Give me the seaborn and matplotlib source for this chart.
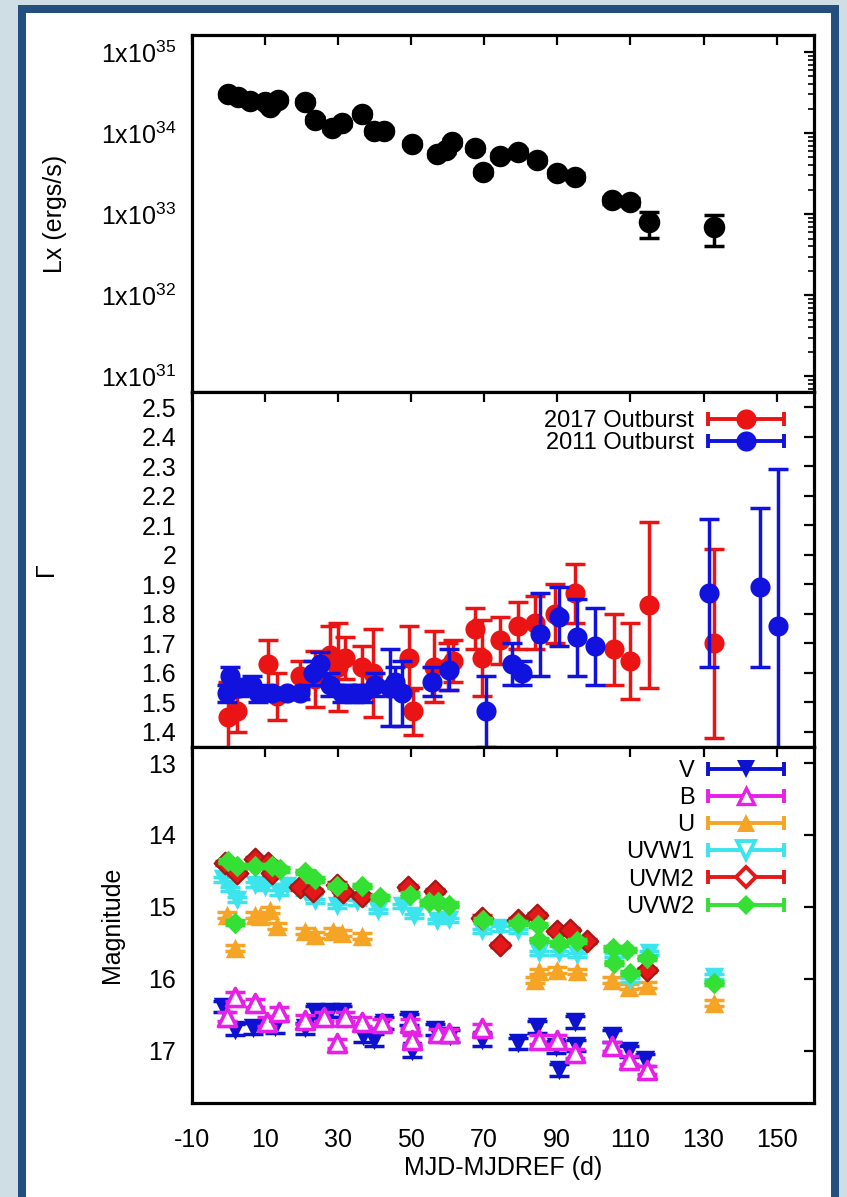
import math
import matplotlib
matplotlib.use("Agg")
import matplotlib.pyplot as plt
import seaborn as sns
from matplotlib.lines import Line2D
from matplotlib.legend_handler import HandlerBase
from matplotlib.patches import Rectangle
from matplotlib.ticker import FixedLocator, LogLocator, FuncFormatter, NullFormatter

# ---------------- X-ray luminosity (2017 outburst) ----------------
lx_day = [0.0, 2.7, 6.0, 10.1, 11.5, 13.7, 21.1, 23.8, 28.4, 31.1, 36.6, 40.0, 42.5,
          50.2, 57.1, 59.5, 61.2, 67.5, 69.7, 74.4, 79.4, 84.5, 89.9, 94.9, 105.0,
          110.0, 115.0, 132.8]
lx_val = [3.02e34, 2.75e34, 2.51e34, 2.40e34, 2.09e34, 2.57e34, 2.45e34, 1.45e34,
          1.15e34, 1.32e34, 1.74e34, 1.05e34, 1.07e34, 7.4e33, 5.5e33, 6.2e33, 7.8e33,
          6.5e33, 3.3e33, 5.2e33, 5.9e33, 4.7e33, 3.2e33, 2.9e33, 1.48e33, 1.41e33,
          7.9e32, 6.9e32]
lx_err = [2.0e33, 1.9e33, 1.8e33, 1.7e33, 1.5e33, 1.8e33, 1.7e33, 1.1e33, 0.9e33,
          1.0e33, 1.3e33, 0.8e33, 0.8e33, 5.5e32, 4.5e32, 5.0e32, 6.0e32, 5.0e32,
          3.0e32, 4.0e32, 4.5e32, 4.0e32, 3.0e32, 2.8e32, 1.6e32, 1.6e32, 2.8e32, 2.9e32]

# ---------------- photon index ----------------
g17_day = [0.0, 2.5, 10.8, 13.5, 19.7, 23.8, 28.0, 30.0, 32.0, 36.5, 39.5, 49.6, 50.6,
           56.4, 60.0, 61.5, 67.6, 69.4, 74.4, 79.4, 84.0, 89.5, 94.9, 105.4, 110.0,
           115.0, 132.8]
g17_val = [1.45, 1.47, 1.63, 1.52, 1.59, 1.58, 1.66, 1.62, 1.65, 1.62, 1.60, 1.65, 1.47,
           1.62, 1.62, 1.64, 1.75, 1.65, 1.71, 1.76, 1.77, 1.80, 1.87, 1.68, 1.64, 1.83, 1.70]
g17_err = [0.12, 0.07, 0.08, 0.08, 0.05, 0.095, 0.10, 0.15, 0.07, 0.07, 0.15, 0.11, 0.08,
           0.12, 0.08, 0.07, 0.07, 0.13, 0.08, 0.08, 0.09, 0.10, 0.10, 0.12, 0.13, 0.28, 0.32]

g11_day = [-0.4, 0.5, 3.0, 6.5, 8.3, 12.0, 16.0, 19.7, 23.3, 25.2, 27.9, 31.1, 34.3, 37.0,
           40.2, 44.3, 45.7, 47.5, 55.7, 60.3, 70.6, 77.6, 80.3, 85.3, 90.4, 95.4, 100.4,
           131.4, 145.4, 150.4]
g11_val = [1.53, 1.59, 1.55, 1.56, 1.53, 1.53, 1.53, 1.53, 1.60, 1.63, 1.56, 1.53, 1.53,
           1.53, 1.56, 1.55, 1.57, 1.53, 1.57, 1.61, 1.47, 1.63, 1.60, 1.73, 1.79, 1.72,
           1.69, 1.87, 1.89, 1.76]
g11_err = [0.03, 0.03, 0.03, 0.03, 0.03, 0.02, 0.02, 0.02, 0.04, 0.04, 0.04, 0.03, 0.03,
           0.03, 0.04, 0.13, 0.05, 0.11, 0.05, 0.07, 0.12, 0.07, 0.04, 0.14, 0.10, 0.13,
           0.13, 0.25, 0.27, 0.53]

# ---------------- UVOT magnitudes ----------------
v_day = [-1.3, 1.9, 6.9, 12.8, 21.1, 23.8, 27.9, 31.1, 37.0, 39.8, 42.5, 49.5, 50.2,
         56.6, 60.7, 69.4, 79.4, 84.4, 89.6, 90.4, 94.9, 95.2, 104.9, 109.5, 114.1]
v_mag = [16.39, 16.71, 16.69, 16.67, 16.69, 16.46, 16.46, 16.46, 16.80, 16.85, 16.62,
         16.57, 17.01, 16.71, 16.80, 16.85, 16.90, 16.67, 16.95, 17.27, 16.60, 16.93,
         16.80, 17.01, 17.13]
v_err = [0.08] * 25

b_day = [-0.4, 1.9, 7.4, 10.6, 13.8, 21.1, 26.1, 29.7, 32.0, 36.6, 42.0, 49.8, 50.3,
         57.5, 60.3, 69.4, 84.9, 89.9, 94.9, 104.9, 109.5, 114.5]
b_mag = [16.53, 16.25, 16.34, 16.60, 16.46, 16.57, 16.53, 16.90, 16.53, 16.60, 16.62,
         16.62, 16.85, 16.76, 16.76, 16.69, 16.85, 16.85, 17.04, 16.94, 17.13, 17.27]
b_err = [0.06] * 22

u_day = [-0.4, 1.9, 7.4, 8.7, 11.5, 13.3, 21.1, 23.8, 28.8, 31.1, 36.6, 84.0, 84.9,
         89.9, 95.4, 104.9, 109.5, 114.5, 132.8]
u_mag = [15.11, 15.57, 15.11, 15.13, 15.04, 15.27, 15.34, 15.39, 15.34, 15.36, 15.41,
         16.02, 15.90, 15.88, 15.90, 16.02, 16.11, 16.09, 16.34]
u_err = [0.04] * 19

w1_day = [-1.3, 0.5, 2.4, 7.4, 10.1, 13.8, 16.0, 21.1, 23.8, 29.7, 35.2, 41.1, 47.5,
          50.7, 57.1, 60.3, 69.4, 74.4, 79.4, 84.9, 90.4, 95.4, 105.4, 110.0, 115.0, 132.8]
w1_mag = [14.62, 14.75, 14.90, 14.69, 14.73, 14.80, 14.71, 14.80, 14.92, 14.99, 14.94,
          15.06, 14.99, 15.13, 15.20, 15.18, 15.34, 15.30, 15.34, 15.64, 15.64, 15.67,
          15.67, 16.02, 15.64, 15.97]
w1_err = [0.03] * 26

m2_day = [-0.8, 2.4, 7.4, 11.0, 11.9, 19.7, 23.3, 29.7, 31.5, 36.6, 49.3, 56.6, 69.4,
          74.4, 79.4, 84.4, 89.9, 93.6, 98.1, 114.5]
m2_mag = [14.39, 14.53, 14.34, 14.39, 14.53, 14.73, 14.78, 14.69, 14.80, 14.85, 14.73,
          14.78, 15.15, 15.53, 15.18, 15.11, 15.34, 15.32, 15.48, 15.88]
m2_err = [0.03] * 20

w2_day = [0.1, 1.9, 2.4, 7.4, 11.9, 14.2, 21.1, 23.8, 29.7, 36.6, 41.6, 49.8, 54.8,
          57.5, 60.3, 69.6, 79.4, 84.7, 85.1, 90.4, 95.4, 105.2, 105.6, 109.0, 110.0,
          114.5, 132.8]
w2_mag = [14.36, 15.22, 14.43, 14.43, 14.43, 14.48, 14.52, 14.62, 14.71, 14.71, 14.87,
          14.83, 14.94, 14.94, 14.97, 15.19, 15.23, 15.25, 15.46, 15.51, 15.48, 15.58,
          15.78, 15.60, 15.92, 15.71, 16.06]
w2_err = [0.03] * 27

day_ticks = [-10, 10, 30, 50, 70, 90, 110, 130, 150]

# ---------------- style ----------------
sns.set_theme(style="white")
plt.rcParams["font.family"] = ["Liberation Sans", "DejaVu Sans"]
plt.rcParams["mathtext.fontset"] = "custom"
plt.rcParams["mathtext.rm"] = "Liberation Sans"
plt.rcParams["axes.unicode_minus"] = False
plt.rcParams["axes.edgecolor"] = "black"
plt.rcParams["text.color"] = "black"
plt.rcParams["axes.labelcolor"] = "black"

W, H = 847, 1197
LIGHT = "#cfdde4"
DARK = "#234f7f"

fig = plt.figure(figsize=(W / 100, H / 100), dpi=100, facecolor=LIGHT)
# window frame
fig.patches.append(Rectangle((18 / W, 0), (839 - 18) / W, (H - 5) / H,
                             transform=fig.transFigure, facecolor=DARK, edgecolor="none", zorder=-3))
fig.patches.append(Rectangle((26 / W, 0), (831 - 26) / W, (H - 13) / H,
                             transform=fig.transFigure, facecolor="white", edgecolor="none", zorder=-2))

LEFT, RIGHT = 191.5, 814.0
edges = [35.0, 392.0, 746.5, 1103.0]
axes = []
for i in range(3):
    top, bot = edges[i], edges[i + 1]
    ax = fig.add_axes([LEFT / W, (H - bot) / H, (RIGHT - LEFT) / W, (bot - top) / H])
    axes.append(ax)
ax1, ax2, ax3 = axes

FS = 18


def style_axis(ax, show_xlabels):
    for s in ax.spines.values():
        s.set_linewidth(2.3)
        s.set_color("black")
    ax.set_facecolor("white")
    ax.set_xlim(-10, 160.2)
    ax.xaxis.set_major_locator(FixedLocator(day_ticks))
    ax.tick_params(which="both", direction="in", top=True, right=True, colors="black")
    ax.tick_params(which="major", length=7, width=1.6)
    ax.tick_params(which="minor", length=4, width=1.2)
    ax.tick_params(axis="y", labelsize=FS, pad=11)
    ax.tick_params(axis="x", labelsize=FS, pad=18, labelbottom=show_xlabels)


def draw_series(ax, x, y, err, color, marker, ms, face, edge, mew, z, ecolor=None):
    ax.errorbar(x, y, yerr=err, fmt="none", ecolor=ecolor or color, elinewidth=2.5,
                capsize=7, capthick=2.5, zorder=z)
    sns.scatterplot(x=x, y=y, ax=ax, marker=marker, s=ms ** 2, color=color,
                    facecolor=face, edgecolor=edge, linewidth=mew, zorder=z + 0.5,
                    legend=False)


class Key:
    def __init__(self, line, marker, ms, face, edge, mew):
        self.line, self.marker, self.ms = line, marker, ms
        self.face, self.edge, self.mew = face, edge, mew


class KeyHandler(HandlerBase):
    def create_artists(self, legend, key, xdescent, ydescent, width, height, fontsize, trans):
        y = height / 2 - ydescent
        x0, x1 = -xdescent, width - xdescent
        bar = Line2D([x0, x1], [y, y], color=key.line, lw=2.8, solid_capstyle="butt")
        caps = Line2D([x0, x1], [y, y], ls="none", marker="|", ms=10, mew=2.8, color=key.line)
        pt = Line2D([(x0 + x1) / 2], [y], ls="none", marker=key.marker, ms=key.ms,
                    mfc=key.face, mec=key.edge, mew=key.mew)
        for a in (bar, caps, pt):
            a.set_transform(trans)
        return [bar, caps, pt]


def add_key(ax, keys, labels, anchor, spacing):
    ax.legend(handles=keys, labels=labels, handler_map={Key: KeyHandler()},
              loc="upper right", bbox_to_anchor=anchor, frameon=False,
              markerfirst=False, handlelength=3.2, handletextpad=0.6,
              labelspacing=spacing, borderpad=0, borderaxespad=0, fontsize=17)


# ---------------- panel 1: luminosity ----------------
draw_series(ax1, lx_day, lx_val, lx_err, "black", "o", 15.5, "black", "black", 0, 3)
ax1.set_yscale("log")
ax1.set_ylim(6.4e30, 1.62e35)
style_axis(ax1, False)
ax1.yaxis.set_major_locator(FixedLocator([1e31, 1e32, 1e33, 1e34, 1e35]))
ax1.yaxis.set_major_formatter(FuncFormatter(
    lambda v, p: r"$\mathregular{1x10^{%d}}$" % round(math.log10(v))))
ax1.yaxis.set_minor_locator(LogLocator(base=10, subs=range(2, 10), numticks=20))
ax1.yaxis.set_minor_formatter(NullFormatter())
ax1.set_ylabel("Lx (ergs/s)", fontsize=FS)
ax1.yaxis.set_label_coords(-0.20, 0.5)

# ---------------- panel 2: photon index ----------------
RED, BLUE = "#ea1414", "#1212de"
draw_series(ax2, g17_day, g17_val, g17_err, RED, "o", 14.5, RED, RED, 0, 3)
draw_series(ax2, g11_day, g11_val, g11_err, BLUE, "o", 14.5, BLUE, BLUE, 0, 5)
ax2.set_ylim(1.35, 2.552)
style_axis(ax2, False)
ax2.yaxis.set_major_locator(FixedLocator([1.4 + 0.1 * k for k in range(12)]))
ax2.yaxis.set_major_formatter(FuncFormatter(lambda v, p: "%g" % round(v, 1)))
ax2.set_ylabel("\u0393", fontsize=FS)
ax2.yaxis.set_label_coords(-0.214, 0.5)
add_key(ax2,
        [Key(RED, "o", 14.5, RED, RED, 0), Key(BLUE, "o", 14.5, BLUE, BLUE, 0)],
        ["2017 Outburst", "2011 Outburst"], (0.9518, 0.949), 0.0)

# ---------------- panel 3: UVOT magnitudes ----------------
C_V, C_B, C_U = "#0c12d0", "#e620e6", "#f5a425"
C_W1, C_M2, C_W2 = "#3ce4ee", "#e41818", "#34e034"
draw_series(ax3, v_day, v_mag, v_err, C_V, "v", 14, C_V, C_V, 0, 3)
draw_series(ax3, b_day, b_mag, b_err, C_B, "^", 13, "white", C_B, 2.6, 5)
draw_series(ax3, u_day, u_mag, u_err, C_U, "^", 14, C_U, C_U, 0, 7)
draw_series(ax3, w1_day, w1_mag, w1_err, C_W1, "v", 14, C_W1, C_W1, 0, 9)
draw_series(ax3, m2_day, m2_mag, m2_err, C_M2, "D", 11, C_M2, "#a81616", 1.6, 11)
draw_series(ax3, w2_day, w2_mag, w2_err, C_W2, "D", 11, C_W2, C_W2, 0, 13)
ax3.set_ylim(17.73, 12.77)
style_axis(ax3, True)
ax3.yaxis.set_major_locator(FixedLocator([13, 14, 15, 16, 17]))
ax3.yaxis.set_major_formatter(FuncFormatter(lambda v, p: "%d" % v))
ax3.set_ylabel("Magnitude", fontsize=FS)
ax3.yaxis.set_label_coords(-0.108, 0.5)
ax3.set_xlabel("MJD-MJDREF (d)", fontsize=FS, labelpad=3)
add_key(ax3,
        [Key(C_V, "v", 13, C_V, C_V, 0),
         Key(C_B, "^", 12, "white", C_B, 2.4),
         Key(C_U, "^", 13, C_U, C_U, 0),
         Key(C_W1, "v", 13, "white", C_W1, 2.8),
         Key(C_M2, "D", 10, "white", C_M2, 2.8),
         Key(C_W2, "D", 10, C_W2, C_W2, 0)],
        ["V", "B", "U", "UVW1", "UVM2", "UVW2"], (0.9518, 0.9625), 0.22)

fig.savefig("out.png", dpi=100, facecolor=LIGHT)
